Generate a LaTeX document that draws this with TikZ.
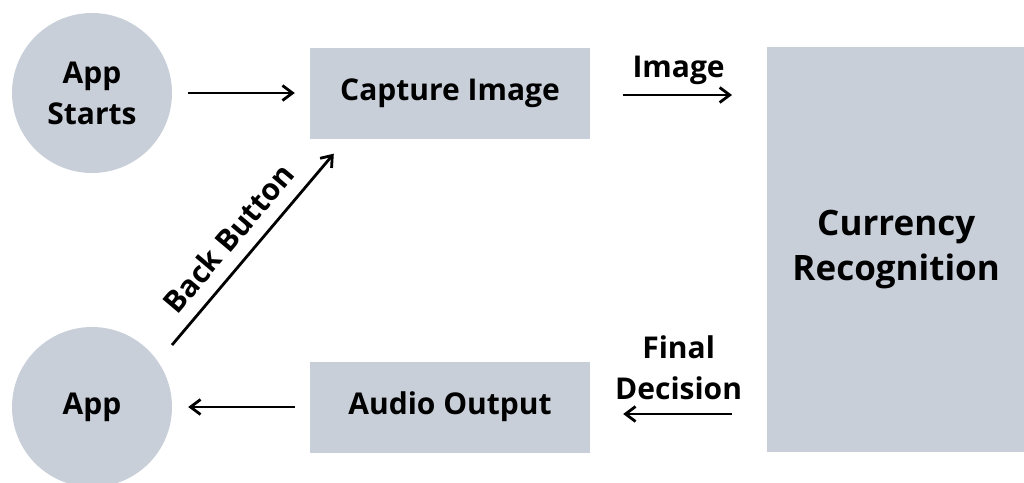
\documentclass[tikz,border=0pt]{standalone}
\usepackage{fontspec}
\setmainfont{Open Sans}
\usepackage{xcolor}
\usetikzlibrary{arrows.meta,positioning}
\definecolor{boxgray}{RGB}{200,207,217}

\begin{document}
\begin{tikzpicture}[
            x=1pt, y=1pt,
            every node/.style={font=\fontsize{30}{41}\selectfont\bfseries},
            stage/.style={circle, fill=boxgray, minimum size=160pt, align=center, inner sep=0pt},
            block/.style={rectangle, fill=boxgray, minimum width=280pt, minimum height=91pt, align=center},
            tag/.style={inner sep=2pt, align=center},
            line/.style={draw, -{Straight Barb[length=10pt,width=15pt]}, line width=2.8pt}
        ]
        \useasboundingbox (0,0) rectangle (1024,-482);

        % Main Nodes
        \node [stage] (start) at (92,-93) {App\\Starts};
        \node [stage] (app) at (92,-407) {App};
        \node [block] (capture) at (450,-93) {Capture Image};
        \node [block] (audio) at (450,-407) {Audio Output};
        \node [block, anchor=west, minimum width=258pt, minimum height=405pt,
               font=\fontsize{35}{45}\selectfont\bfseries] (recog) at (767,-249.5) {Currency\\Recognition};

        % Edges
        \path [line, shorten <=16pt, shorten >=15pt] (start.east) -- (capture.west);
        \path [line, shorten <=33pt, shorten >=35pt] ([yshift=-2pt]capture.east) -- ([yshift=-2pt]capture.east -| recog.west)
            node [tag, midway, above=7pt] {Image};
        \path [line, shorten <=35pt, shorten >=33pt] ([yshift=-7pt]audio.east -| recog.west) -- ([yshift=-7pt]audio.east)
            node [tag, midway, above=11pt] {Final\\Decision};
        \path [line, shorten <=15pt, shorten >=16pt] (audio.west) -- (app.east);
        \path [line] ([shift={(80pt,62pt)}]app.center) -- ([shift={(24pt,-15pt)}]capture.south west)
            node [tag, pos=0.47, sloped, above=11pt] {Back Button};

    \end{tikzpicture}
\end{document}
